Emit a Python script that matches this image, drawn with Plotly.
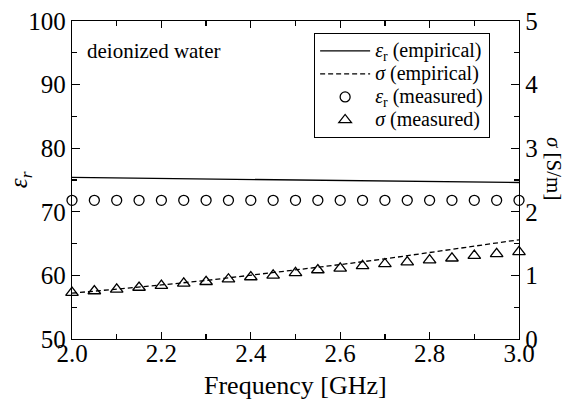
import plotly.graph_objects as go

# ---- data ----
freq_meas = [2.00, 2.05, 2.10, 2.15, 2.20, 2.25, 2.30, 2.35, 2.40, 2.45, 2.50,
             2.55, 2.60, 2.65, 2.70, 2.75, 2.80, 2.85, 2.90, 2.95, 3.00]
eps_meas = [71.8] * 21
sig_meas = [0.73, 0.755, 0.78, 0.81, 0.84, 0.875, 0.90, 0.94, 0.975, 1.00, 1.04,
            1.085, 1.11, 1.15, 1.18, 1.21, 1.24, 1.27, 1.31, 1.34, 1.37]

freq_emp = [2.0, 2.1, 2.2, 2.3, 2.4, 2.5, 2.6, 2.7, 2.8, 2.9, 3.0]
eps_emp = [75.40, 75.33, 75.25, 75.17, 75.09, 75.01, 74.93, 74.85, 74.77, 74.69, 74.61]
sig_emp = [0.72, 0.78, 0.85, 0.92, 1.00, 1.08, 1.17, 1.26, 1.36, 1.46, 1.56]

names = ["<i>ε</i><sub>r</sub> (empirical)", "<i>σ</i> (empirical)",
         "<i>ε</i><sub>r</sub> (measured)", "<i>σ</i> (measured)"]

FONT = "Liberation Serif"
LEG_SPAN = "<span style='font-size:20px'>{}</span>"

fig = go.Figure()
fig.add_trace(go.Scatter(x=freq_emp, y=eps_emp, mode="lines", name=LEG_SPAN.format(names[0]),
                         cliponaxis=False, line=dict(color="black", width=1.3)))
fig.add_trace(go.Scatter(x=freq_emp, y=sig_emp, mode="lines", name=LEG_SPAN.format(names[1]),
                         yaxis="y2", cliponaxis=False,
                         line=dict(color="black", width=1.3, dash="5px,3px")))
fig.add_trace(go.Scatter(x=freq_meas, y=eps_meas, mode="markers", name=LEG_SPAN.format(names[2]),
                         cliponaxis=False,
                         marker=dict(symbol="circle-open", size=10, color="black",
                                     line=dict(width=1.3))))
fig.add_trace(go.Scatter(x=freq_meas, y=sig_meas, mode="markers", name=LEG_SPAN.format(names[3]),
                         yaxis="y2", cliponaxis=False,
                         marker=dict(symbol="triangle-up-open", size=11, color="black",
                                     line=dict(width=1.3))))

axis_common = dict(showgrid=False, zeroline=False, showline=True, linecolor="black",
                   linewidth=1.3, ticks="inside", tickcolor="black", tickwidth=1.3,
                   automargin=False,
                   tickfont=dict(family=FONT, size=25, color="black"))

fig.update_layout(
    width=571, height=407,
    margin=dict(l=72, r=52, t=21, b=68),
    paper_bgcolor="white", plot_bgcolor="white",
    font=dict(family=FONT, color="black"),
    hovermode=False,
    xaxis=dict(range=[2.0, 3.0], dtick=0.2, tick0=2.0, tickformat=".1f", ticklen=7,
               mirror="ticks", ticklabelstandoff=-8,
               minor=dict(dtick=0.1, ticks="inside", ticklen=5, tickcolor="black", tickwidth=1.3),
               **axis_common),
    yaxis=dict(range=[50, 100], dtick=10, ticklen=8, ticklabelstandoff=0,
               minor=dict(dtick=5, ticks="inside", ticklen=5, tickcolor="black", tickwidth=1.3),
               **axis_common),
    yaxis2=dict(range=[0, 5], dtick=1, ticklen=8, overlaying="y", side="right",
                ticklabelstandoff=0,
                minor=dict(dtick=0.5, ticks="inside", ticklen=5, tickcolor="black", tickwidth=1.3),
                **axis_common),
    showlegend=True,
    legend=dict(x=0.541, y=0.962, xanchor="left", yanchor="top",
                bgcolor="white", bordercolor="black", borderwidth=1.3,
                font=dict(family=FONT, size=15.4, color="black"),
                itemwidth=50, tracegroupgap=0),
    annotations=[
        dict(text="deionized water", x=0.03, y=0.905, xref="paper", yref="paper",
             xanchor="left", yanchor="middle", showarrow=False,
             font=dict(family=FONT, size=21, color="black")),
        dict(text="Frequency [GHz]", x=0.5, y=-0.145, xref="paper", yref="paper",
             xanchor="center", yanchor="middle", showarrow=False,
             font=dict(family=FONT, size=26, color="black")),
        dict(text="<i>ε<sub>r</sub></i>", x=-0.116, y=0.5, xref="paper", yref="paper",
             xanchor="center", yanchor="middle", showarrow=False, textangle=-90,
             font=dict(family=FONT, size=25, color="black")),
        dict(text="<i>σ</i> [S/m]", x=1.078, y=0.535, xref="paper", yref="paper",
             xanchor="center", yanchor="middle", showarrow=False, textangle=90,
             font=dict(family=FONT, size=21, color="black")),
    ],
)

fig.write_html("out.html", config={"displayModeBar": False, "staticPlot": True},
               post_script="document.body.style.margin='0';document.body.style.padding='0';")
